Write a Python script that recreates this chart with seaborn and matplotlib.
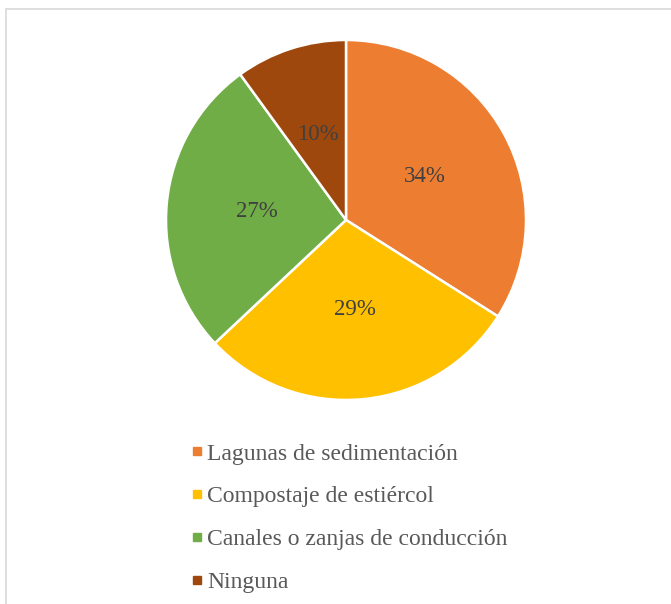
import matplotlib
matplotlib.use("Agg")
import seaborn as sns
from matplotlib import pyplot as plt
from matplotlib.lines import Line2D
from matplotlib.patches import Rectangle

# Data
categories = ["Lagunas de sedimentación", "Compostaje de estiércol",
              "Canales o zanjas de conducción", "Ninguna"]
values = [34, 29, 27, 10]
colors = ["#ED7D31", "#FFC000", "#70AD47", "#9E480E"]

sns.set_style("white")
plt.rcParams["font.family"] = ["Liberation Serif", "DejaVu Serif"]

fig = plt.figure(figsize=(6.71, 6.04), dpi=100)

# chart border (open at right / bottom, as in the cropped original)
fig.patches.append(Rectangle((6 / 671, -0.05), 1.2, 1 - 9 / 604 + 0.05,
                             transform=fig.transFigure, fill=False,
                             edgecolor="#D9D9D9", linewidth=1.2))

ax = fig.add_axes([0.2474, 0.3378, 0.5365, 0.596])
wedges, texts, autotexts = ax.pie(
    values, colors=colors, startangle=90, counterclock=False,
    autopct="%1.0f%%", pctdistance=0.5, radius=1,
    wedgeprops=dict(edgecolor="white", linewidth=1.8),
    textprops=dict(color="#404040", fontsize=16.5))
ax.set_xlim(-1, 1)
ax.set_ylim(-1, 1)
ax.set_aspect("equal")
ax.axis("off")

handles = [Line2D([0], [0], marker="s", linestyle="", markersize=5.5,
                  markerfacecolor=c, markeredgecolor=c) for c in colors]
leg = fig.legend(handles, categories, loc="upper left",
                 bbox_to_anchor=(192 / 671, 1 - 443 / 604),
                 frameon=False, fontsize=17, labelspacing=0.9,
                 handlelength=0.45, handletextpad=0.2, borderpad=0,
                 borderaxespad=0)
for t in leg.get_texts():
    t.set_color("#595959")

plt.savefig("out.png", dpi=100)
